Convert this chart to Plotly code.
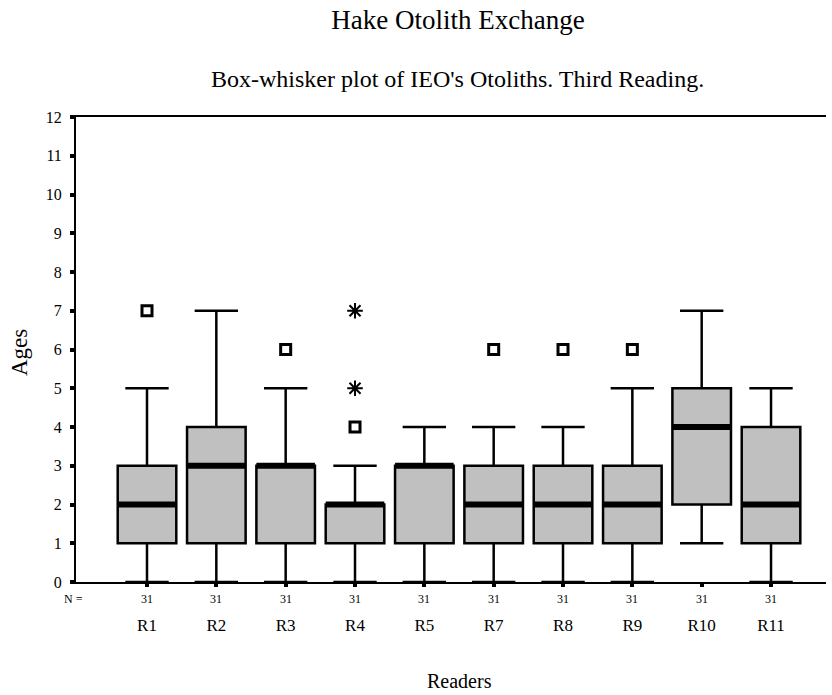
import plotly.graph_objects as go

readers = ["R1", "R2", "R3", "R4", "R5", "R7", "R8", "R9", "R10", "R11"]
n_counts = [31, 31, 31, 31, 31, 31, 31, 31, 31, 31]
lower = [0, 0, 0, 0, 0, 0, 0, 0, 1, 0]
q1 = [1, 1, 1, 1, 1, 1, 1, 1, 2, 1]
median = [2, 3, 3, 2, 3, 2, 2, 2, 4, 2]
q3 = [3, 4, 3, 2, 3, 3, 3, 3, 5, 4]
upper = [5, 7, 5, 3, 4, 4, 4, 5, 7, 5]
# outliers (circle) and extremes (asterisk): (reader, value)
outliers = [("R1", 7), ("R3", 6), ("R4", 4), ("R7", 6), ("R8", 6), ("R9", 6)]
extremes = [("R4", 5), ("R4", 7)]
y_ticks = list(range(0, 13))

FONT = "Liberation Serif, Times New Roman, serif"
pos = list(range(len(readers)))
idx = {r: i for i, r in enumerate(readers)}
box_w = 0.845

fig = go.Figure()
fig.add_trace(go.Box(
    x=pos, q1=q1, median=median, q3=q3, lowerfence=lower, upperfence=upper,
    boxpoints=False, width=box_w, whiskerwidth=0.74,
    fillcolor="#c0c0c0", line=dict(color="black", width=2.5),
    showlegend=False, hoverinfo="skip"))

# thick median bars
mx, my = [], []
for i, m in zip(pos, median):
    mx += [i - box_w / 2, i + box_w / 2, None]
    my += [m, m, None]
fig.add_trace(go.Scatter(x=mx, y=my, mode="lines",
                         line=dict(color="black", width=6),
                         showlegend=False, hoverinfo="skip"))

fig.add_trace(go.Scatter(
    x=[idx[r] for r, v in outliers], y=[v for r, v in outliers], mode="markers",
    marker=dict(symbol="square-open", size=10, color="black",
                line=dict(width=3, color="black")),
    showlegend=False, hoverinfo="skip"))
fig.add_trace(go.Scatter(
    x=[idx[r] for r, v in extremes], y=[v for r, v in extremes], mode="markers",
    marker=dict(symbol="asterisk-open", size=13, color="black",
                line=dict(width=2, color="black")),
    showlegend=False, hoverinfo="skip"))

# N row
for i, n in zip(pos, n_counts):
    fig.add_annotation(x=i, y=0, xref="x", yref="paper", text=str(n),
                       showarrow=False, yanchor="middle", yshift=-17,
                       font=dict(family=FONT, size=12, color="black"))
fig.add_annotation(x=-0.003, y=0, xref="paper", yref="paper", text="N =",
                   showarrow=False, yanchor="middle", xanchor="center",
                   yshift=-17,
                   font=dict(family=FONT, size=12, color="black"))

fig.add_annotation(x=0.508, y=1, xref="paper", yref="paper",
                   text="Box-whisker plot of IEO's Otoliths. Third Reading.",
                   showarrow=False, yanchor="middle", xanchor="center",
                   yshift=38,
                   font=dict(family=FONT, size=24, color="black"))
fig.add_annotation(x=0.511, y=0, xref="paper", yref="paper", text="Readers",
                   showarrow=False, yanchor="middle", xanchor="center",
                   yshift=-99,
                   font=dict(family=FONT, size=20, color="black"))
fig.add_annotation(x=0, y=0.4925, xref="paper", yref="paper", text="Ages",
                   showarrow=False, yanchor="middle", xanchor="center",
                   xshift=-56, textangle=-90,
                   font=dict(family=FONT, size=23, color="black"))

fig.update_layout(
    width=832, height=695,
    paper_bgcolor="white", plot_bgcolor="white",
    margin=dict(l=76, r=6, t=117, b=113),
    title=dict(text="Hake Otolith Exchange", x=458 / 832, xanchor="center",
               y=1 - 19.5 / 695, yanchor="middle", xref="container",
               font=dict(family=FONT, size=27, color="black")),
    font=dict(family=FONT, color="black"),
    xaxis=dict(range=[-1.024, 9.793], tickmode="array", tickvals=pos,
               ticktext=readers, showgrid=False, zeroline=False,
               showline=True, linecolor="black", linewidth=2, mirror=True,
               ticks="outside", ticklen=3, tickwidth=4, tickcolor="black",
               ticklabelstandoff=24,
               tickfont=dict(family=FONT, size=17, color="black")),
    yaxis=dict(range=[0, 12], tickmode="array", tickvals=y_ticks,
               showgrid=False, zeroline=False,
               showline=True, linecolor="black", linewidth=2,
               ticks="outside", ticklen=4, tickwidth=4, tickcolor="black",
               ticklabelstandoff=5,
               tickfont=dict(family=FONT, size=16, color="black")),
)

fig.write_html("out.html", config={"displayModeBar": False},
               post_script="document.body.style.margin='0';")
